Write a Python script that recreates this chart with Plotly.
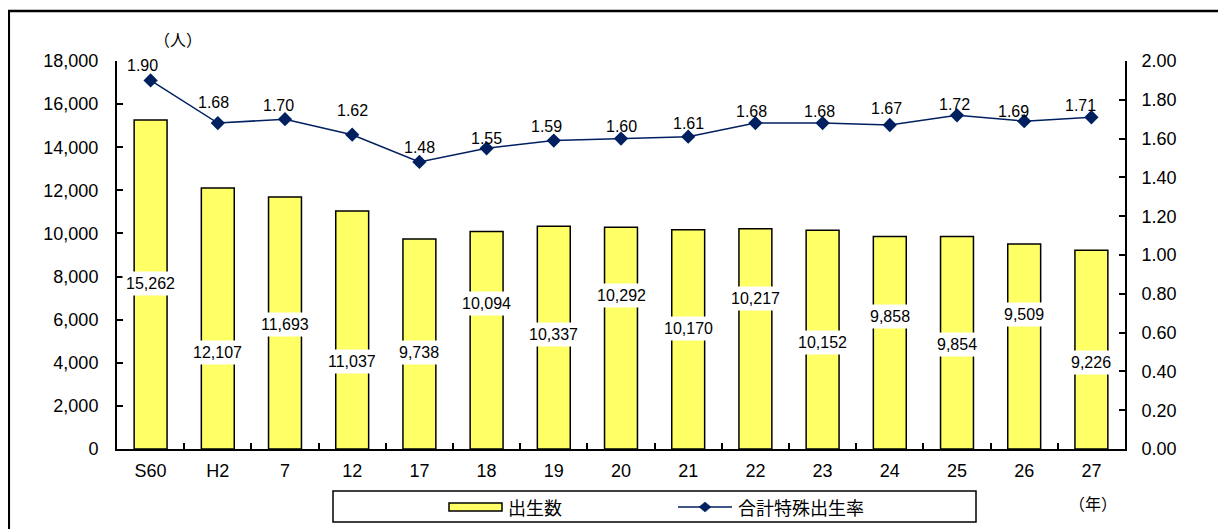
import plotly.graph_objects as go

# data
years = ["S60", "H2", "7", "12", "17", "18", "19", "20", "21", "22", "23", "24", "25", "26", "27"]
births = [15262, 12107, 11693, 11037, 9738, 10094, 10337, 10292, 10170, 10217, 10152, 9858, 9854, 9509, 9226]
tfr = [1.90, 1.68, 1.70, 1.62, 1.48, 1.55, 1.59, 1.60, 1.61, 1.68, 1.68, 1.67, 1.72, 1.69, 1.71]

# label placement (as in the original chart)
bar_label_y = [7701, 4454, 5799, 4082, 4454, 6773, 5289, 7144, 5613, 7005, 4964, 6124, 4825, 6263, 4036]
rate_label_dy = [15, 21, 14, 24, 14, 10, 14, 12, 13, 12, 12, 17, 11, 10, 12]
rate_label_dx = [-8, -4, -7, 0, 0, 0, -7, 0, 0, -4, -3, -3, -3, -11, -11]

FONT = "Liberation Sans, Arial, Noto Sans CJK JP"
CJK = "Noto Sans CJK JP"
NAVY = "#002060"

# page offset of the figure (body margin), and plot area in page pixels
OFF = 8
PX0, PX1, PY0, PY1 = 117, 1125, 61, 449
W, H = 1226, 529


def px_x(p):
    return (p - PX0) / (PX1 - PX0)


def px_y(p):
    return (PY1 - p) / (PY1 - PY0)


fig = go.Figure()

fig.add_trace(go.Bar(
    x=years, y=births, name="出生数",
    marker=dict(color="#FFFF66", line=dict(color="black", width=1.5)),
    width=0.49,
))

fig.add_trace(go.Scatter(
    x=years, y=tfr, name="合計特殊出生率", yaxis="y2",
    mode="lines+markers", cliponaxis=False,
    line=dict(color=NAVY, width=1.5),
    marker=dict(symbol="diamond", size=11, color=NAVY),
))

# rate labels above the markers
for i, v in enumerate(tfr):
    fig.add_annotation(
        x=i, y=v, yref="y2", text=f"{v:.2f}", showarrow=False,
        xshift=rate_label_dx[i], yshift=rate_label_dy[i],
        font=dict(size=16, color="black"),
    )

# bar value labels with white background
for i, (v, ly) in enumerate(zip(births, bar_label_y)):
    fig.add_annotation(
        x=i, y=ly, text=f"{v:,}", showarrow=False,
        font=dict(size=16, color="black"), bgcolor="white",
        borderpad=3,
    )


def note(text, x, y, anchor="center", size=16):
    fig.add_annotation(x=px_x(x), y=px_y(y), xref="paper", yref="paper",
                       xanchor=anchor, yanchor="middle", text=text, showarrow=False,
                       font=dict(family=CJK, size=size, color="black"))


note("（人）", 178, 39)
note("（年）", 1093, 503)

# outer frame
fig.add_shape(type="rect", xref="paper", yref="paper",
              x0=px_x(8.8), x1=px_x(1222), y0=px_y(540), y1=px_y(11),
              line=dict(color="black", width=2.5))

# legend, drawn by hand to keep the original's wide swatch
fig.add_shape(type="rect", xref="paper", yref="paper",
              x0=px_x(333), x1=px_x(976), y0=px_y(522), y1=px_y(491),
              line=dict(color="black", width=1.5))
fig.add_shape(type="rect", xref="paper", yref="paper",
              x0=px_x(449), x1=px_x(502), y0=px_y(511), y1=px_y(503),
              fillcolor="#FFFF66", line=dict(color="black", width=1.5))
note("出生数", 506, 507, anchor="left", size=18)
fig.add_shape(type="line", xref="paper", yref="paper",
              x0=px_x(678), x1=px_x(732), y0=px_y(507), y1=px_y(507),
              line=dict(color=NAVY, width=1.5))
dcx, dcy = 705, 507
fig.add_shape(type="path", xref="paper", yref="paper",
              path=(f"M{px_x(dcx - 6)},{px_y(dcy)} L{px_x(dcx)},{px_y(dcy - 5)} "
                    f"L{px_x(dcx + 6)},{px_y(dcy)} L{px_x(dcx)},{px_y(dcy + 5)} Z"),
              fillcolor=NAVY, line=dict(color=NAVY, width=0.5))
note("合計特殊出生率", 736, 507, anchor="left", size=18)

fig.update_layout(
    width=W, height=H,
    margin=dict(l=PX0 - OFF, r=W - (PX1 - OFF), t=PY0 - OFF, b=H - (PY1 - OFF)),
    paper_bgcolor="white", plot_bgcolor="white",
    font=dict(family=FONT, size=16, color="black"),
    bargap=0.5,
    showlegend=False,
    xaxis=dict(type="category", range=[-0.5, len(years) - 0.5], showline=True,
               linecolor="black", linewidth=2, ticks="inside", tickangle=0,
               tickson="boundaries", ticklen=6, tickcolor="black", tickwidth=1.5,
               showgrid=False, tickfont=dict(size=18), ticklabelstandoff=4),
    yaxis=dict(range=[0, 18000], dtick=2000, tickformat=",d", showline=True,
               linecolor="black", linewidth=2, ticks="inside", ticklen=6, tickwidth=1.5,
               tickcolor="black", showgrid=False, zeroline=False,
               tickfont=dict(size=18), ticklabelstandoff=13),
    yaxis2=dict(range=[0, 2], dtick=0.2, tickformat=".2f", overlaying="y", side="right",
                showline=True, linecolor="black", linewidth=2, ticks="inside", ticklen=6,
                tickwidth=1.5, tickcolor="black", showgrid=False, zeroline=False,
                tickfont=dict(size=18), ticklabelstandoff=11),
)

fig.write_html("out.html")
